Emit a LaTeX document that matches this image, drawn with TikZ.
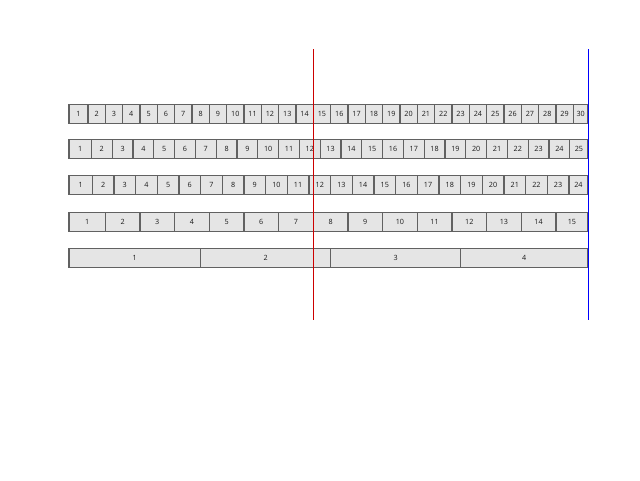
\documentclass[tikz,border=0pt]{standalone}
\usepackage{fontspec}
\setmainfont{Open Sans}
\begin{document}
\begin{tikzpicture}[x=0.75pt,y=-0.75pt,
  cell/.style={draw=black!62, fill=black!10, line width=0.95pt, inner sep=0pt,
    minimum height=14.25pt, font=\fontsize{5.4}{6}\selectfont, text=black!90, anchor=north},
  guide/.style={line width=0.75pt}]
\useasboundingbox (0,0) rectangle (640,480);
\foreach \n/\y [count=\r] in {30/104,25/139,24/175,15/212,4/248}{
  \pgfmathsetmacro\w{520/\n}
  \foreach \i in {1,...,\n}{
    \pgfmathsetmacro\xl{\i==1 ? 69 : 70.6+(\i-1)*\w}
    \pgfmathsetmacro\xr{\i==\n ? 588 : 70.6+\i*\w}
    \pgfmathsetmacro\wpt{(\xr-\xl)*0.75}
    \node[cell, minimum width=\wpt pt] (c\r-\i) at ({(\xl+\xr)/2},\y) {\i};
  }
}
\coordinate (rtop) at (313.3,49);
\coordinate (rbot) at (313.3,320);
\coordinate (btop) at (588.3,49);
\coordinate (bbot) at (588.3,320);
\draw[guide, draw={rgb,255:red,204;green,0;blue,0}] (rtop) -- (rbot);
\draw[guide, blue] (btop) -- (bbot);
\end{tikzpicture}
\end{document}
